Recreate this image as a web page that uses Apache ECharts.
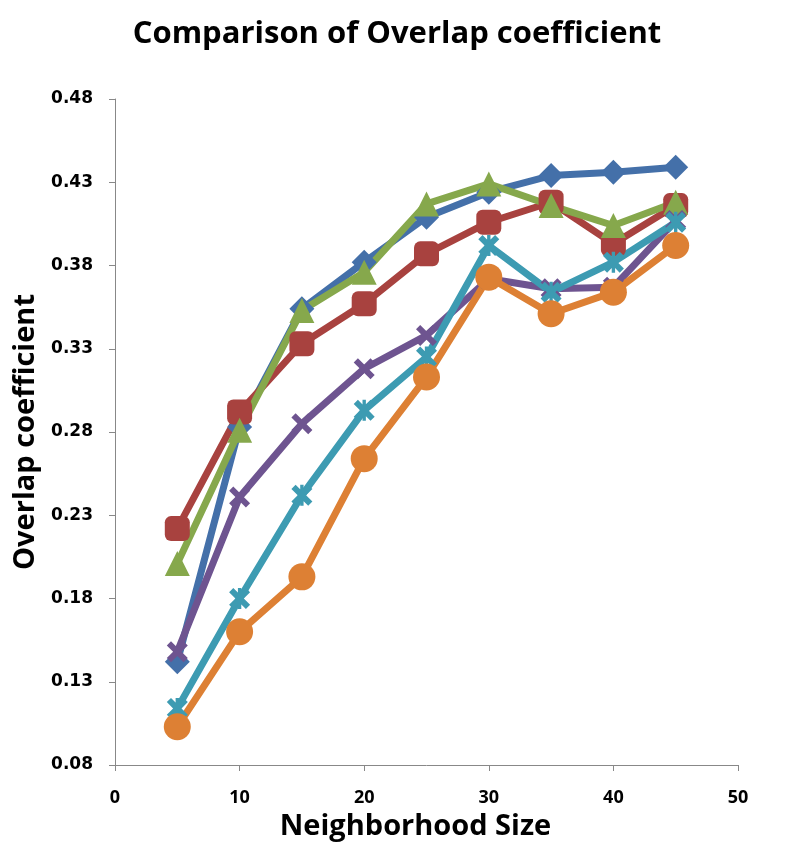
<!DOCTYPE html>
<html><head><meta charset="utf-8">
<script src="https://cdn.jsdelivr.net/npm/echarts@6/dist/echarts.min.js"></script>
<style>html,body{margin:0;padding:0;background:#fff}#c{width:794px;height:859px}</style>
</head><body><div id="c"></div>
<script>
const xValues = [5, 10, 15, 20, 25, 30, 35, 40, 45];
const seriesBlue   = [0.142, 0.283, 0.354, 0.382, 0.409, 0.424, 0.434, 0.436, 0.439];
const seriesRed    = [0.222, 0.292, 0.333, 0.357, 0.387, 0.406, 0.418, 0.393, 0.416];
const seriesGreen  = [0.201, 0.281, 0.353, 0.376, 0.417, 0.429, 0.416, 0.404, 0.418];
const seriesPurple = [0.148, 0.241, 0.285, 0.318, 0.338, 0.372, 0.366, 0.367, 0.407];
const seriesTeal   = [0.114, 0.180, 0.242, 0.293, 0.325, 0.392, 0.364, 0.382, 0.406];
const seriesOrange = [0.103, 0.160, 0.193, 0.264, 0.313, 0.373, 0.351, 0.364, 0.392];

const X_PATH = 'path://M2,0 L5,3 L8,0 L10,2 L7,5 L10,8 L8,10 L5,7 L2,10 L0,8 L3,5 L0,2 Z';
const STAR_PATH = 'path://M2,0 L5,3 L8,0 L10,2 L7,5 L10,8 L8,10 L5,7 L2,10 L0,8 L3,5 L0,2 Z M4.2,0 L5.8,0 L5.8,10 L4.2,10 Z';

function mk(name, data, color, symbol, size) {
  return {
    name: name, type: 'line',
    data: xValues.map((x, i) => [x, data[i]]),
    symbol: symbol, symbolSize: size,
    lineStyle: { color: color, width: 7 },
    itemStyle: { color: color },
    emphasis: { disabled: true },
    animation: false
  };
}

const chart = echarts.init(document.getElementById('c'));
chart.setOption({
  backgroundColor: '#fff',
  animation: false,
  title: {
    text: 'Comparison of Overlap coefficient',
    left: 'center', top: 14,
    textStyle: { fontFamily: 'Open Sans', fontWeight: 'bold', fontSize: 31, color: '#000' }
  },
  grid: { left: 115, right: 56, top: 99, bottom: 94, containLabel: false, outerBoundsMode: 'none' },
  xAxis: {
    type: 'value', min: 0, max: 50, interval: 10,
    name: 'Neighborhood Size', nameLocation: 'middle', nameGap: 46,
    nameTextStyle: { fontFamily: 'Open Sans', fontWeight: 'bold', fontSize: 29, color: '#000', padding: [0, 22, 0, 0] },
    axisLine: { show: true, lineStyle: { color: '#888', width: 1 } },
    axisTick: { show: true, inside: false, length: 6, lineStyle: { color: '#888' } },
    axisLabel: { fontFamily: 'Open Sans', fontWeight: 'bold', fontSize: 18, color: '#000', margin: 24 },
    splitLine: { show: false }
  },
  yAxis: {
    type: 'value', min: 0.08, max: 0.48, interval: 0.05,
    name: 'Overlap coefficient', nameLocation: 'middle', nameGap: 73, nameRotate: 90,
    nameTextStyle: { fontFamily: 'Open Sans', fontWeight: 'bold', fontSize: 29, color: '#000' },
    axisLine: { show: true, lineStyle: { color: '#888', width: 1 } },
    axisTick: { show: true, inside: false, length: 6, lineStyle: { color: '#888' } },
    axisLabel: { fontFamily: 'DejaVu Sans', fontWeight: 'bold', fontSize: 17, color: '#000', margin: 22,
      formatter: v => v.toFixed(2) },
    splitLine: { show: false }
  },
  series: [
    mk('Series1', seriesBlue,   '#4470A9', 'diamond', 25),
    mk('Series2', seriesRed,    '#A8423F', 'roundRect', 25),
    mk('Series3', seriesGreen,  '#86A84C', 'triangle', 25),
    mk('Series4', seriesPurple, '#6E5490', X_PATH, 21),
    mk('Series5', seriesTeal,   '#3D9BB2', STAR_PATH, 21),
    mk('Series6', seriesOrange, '#DD8034', 'circle', 27)
  ]
});
</script></body></html>
